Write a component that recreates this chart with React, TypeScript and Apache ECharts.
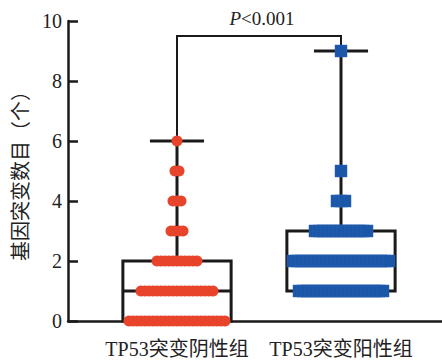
import React, { useEffect, useRef } from "react";
import * as echarts from "echarts";

// Groups (categories) placed at x = 1 and x = 2
const groups = ["TP53突变阴性组", "TP53突变阳性组"];
const yTicks = [0, 2, 4, 6, 8, 10];
const yName = "基因突变数目（个）";
// box statistics: [min, Q1, median, Q3, max]
const negBox = [0, 0, 1, 2, 6];
const posBox = [1, 1, 2, 3, 9];
// observed values and how many samples share each value
const negValues = [0, 1, 2, 3, 4, 5, 6];
const negCounts = [25, 19, 11, 4, 3, 2, 1];
const posValues = [1, 2, 3, 4, 5, 9];
const posCounts = [22, 25, 14, 3, 1, 1];
const pLabel = "<0.001";

const FONT = "'Liberation Serif', 'Noto Sans CJK SC', serif";
const RED = "#E8442B";
const BLUE = "#1B57A9";
const INK = "#1a1a1a";
const STEP = 4 / 164; // horizontal spread between stacked points
const BOX_HW = 0.33;
const CAP_HW = 0.165;
const BRACKET_Y = 9.5;

function spread(values: number[], counts: number[], center: number) {
  const out: number[][] = [];
  values.forEach((v, k) => {
    const n = counts[k];
    for (let i = 0; i < n; i++) out.push([center + (i - (n - 1) / 2) * STEP, v]);
  });
  return out;
}

export default function App() {
  const ref = useRef<HTMLDivElement>(null);
  useEffect(() => {
    const chart = echarts.init(ref.current!, null, { renderer: "svg" });
    const boxData = [
      [1, ...negBox],
      [2, ...posBox],
    ];
    chart.setOption({
      animation: false,
      grid: { left: 68, right: 0, top: 21, bottom: 40 },
      xAxis: {
        type: "value",
        min: 1 - 109 / 164,
        max: 2 + 101 / 164,
        splitLine: { show: false },
        axisTick: { show: false },
        axisLine: { lineStyle: { color: INK, width: 2.5 } },
        axisLabel: {
          customValues: [1, 2],
          formatter: (v: number) => groups[Math.round(v) - 1] ?? "",
          fontFamily: FONT,
          fontSize: 20,
          color: "#222",
          margin: 18,
        },
      },
      yAxis: {
        type: "value",
        min: yTicks[0],
        max: yTicks[yTicks.length - 1],
        interval: 2,
        name: yName,
        nameLocation: "middle",
        nameRotate: 90,
        nameGap: 36,
        nameTextStyle: { fontFamily: FONT, fontSize: 20, color: "#222" },
        splitLine: { show: false },
        axisLine: { show: true, lineStyle: { color: INK, width: 2.5 } },
        axisTick: { show: true, inside: true, length: 10, lineStyle: { color: INK, width: 2.5 } },
        axisLabel: { fontFamily: FONT, fontSize: 20, color: "#222", margin: 6 },
      },
      series: [
        {
          type: "custom",
          clip: false,
          z: 2,
          data: boxData,
          renderItem: (params: any, api: any) => {
            const x = api.value(0);
            const mn = api.value(1), q1 = api.value(2), md = api.value(3), q3 = api.value(4), mx = api.value(5);
            const tl = api.coord([x - BOX_HW, q3]);
            const br = api.coord([x + BOX_HW, q1]);
            const ln = (a: number[], b: number[]) => ({
              type: "line",
              shape: { x1: a[0], y1: a[1], x2: b[0], y2: b[1] },
              style: { stroke: INK, lineWidth: 3 },
            });
            const children: any[] = [
              {
                type: "rect",
                shape: { x: tl[0], y: tl[1], width: br[0] - tl[0], height: br[1] - tl[1] },
                style: { fill: "none", stroke: INK, lineWidth: 3 },
              },
              ln(api.coord([x - BOX_HW, md]), api.coord([x + BOX_HW, md])),
              ln(api.coord([x, q3]), api.coord([x, mx])),
              ln(api.coord([x - CAP_HW, mx]), api.coord([x + CAP_HW, mx])),
            ];
            if (mn < q1) {
              children.push(ln(api.coord([x, q1]), api.coord([x, mn])));
              children.push(ln(api.coord([x - CAP_HW, mn]), api.coord([x + CAP_HW, mn])));
            }
            return { type: "group", children };
          },
        },
        {
          type: "custom",
          clip: false,
          z: 2,
          data: [[1, 2, negBox[4], posBox[4], BRACKET_Y]],
          renderItem: (params: any, api: any) => {
            const x1 = api.value(0), x2 = api.value(1);
            const a = api.coord([x1, api.value(2)]);
            const b = api.coord([x1, api.value(4)]);
            const c = api.coord([x2, api.value(4)]);
            const d = api.coord([x2, api.value(3)]);
            const m = api.coord([(x1 + x2) / 2, api.value(4)]);
            return {
              type: "group",
              children: [
                {
                  type: "polyline",
                  shape: { points: [a, b, c, d] },
                  style: { stroke: INK, lineWidth: 2, fill: "none" },
                },
                {
                  type: "text",
                  style: {
                    x: m[0] + 3,
                    y: m[1] - 8,
                    text: "{i|P}{n|" + pLabel + "}",
                    align: "center",
                    verticalAlign: "bottom",
                    rich: {
                      i: { fontFamily: FONT, fontSize: 19, fontStyle: "italic", fill: "#222" },
                      n: { fontFamily: FONT, fontSize: 19, fill: "#222" },
                    },
                  },
                },
              ],
            };
          },
        },
        {
          type: "scatter",
          z: 5,
          symbol: "circle",
          symbolSize: 11,
          itemStyle: { color: RED, opacity: 1 },
          data: spread(negValues, negCounts, 1),
        },
        {
          type: "scatter",
          z: 5,
          symbol: "rect",
          symbolSize: 12,
          itemStyle: { color: BLUE, opacity: 1, borderColor: "#2a63b3", borderWidth: 0.5 },
          data: spread(posValues, posCounts, 2),
        },
      ],
    });
    return () => chart.dispose();
  }, []);
  return (
    <div
      ref={ref}
      style={{ position: "fixed", left: 0, top: 0, width: 442, height: 361, background: "#fff" }}
    />
  );
}
